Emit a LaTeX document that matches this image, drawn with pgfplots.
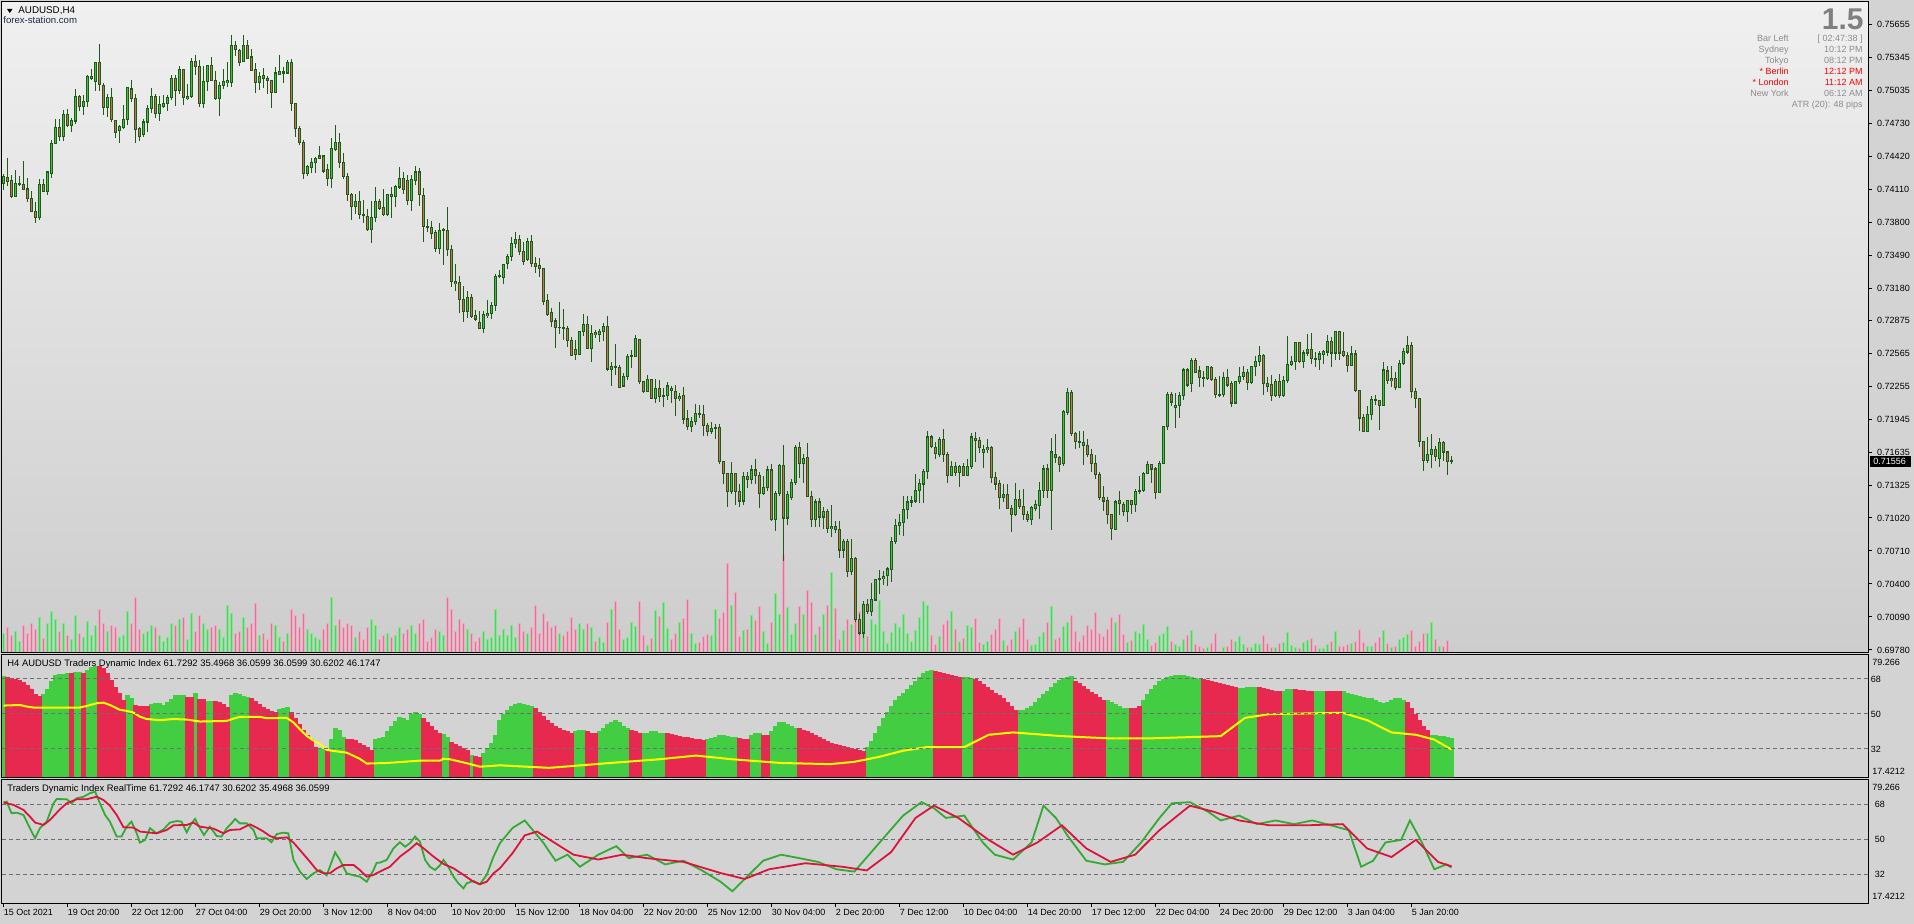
\documentclass[border=0pt]{standalone}
\usepackage{pgfplots}
\pgfplotsset{compat=1.18}
\usepackage{pgfplotstable}
\usepackage{fontspec}
\setmainfont{Liberation Sans}
\definecolor{pagebg}{HTML}{D3D3D3}
\definecolor{gradtop}{HTML}{F0F0F0}
\definecolor{gradbot}{HTML}{CDCDCD}
\definecolor{wick}{HTML}{1F5A1A}
\definecolor{bull}{HTML}{3EC43E}
\definecolor{bear}{HTML}{C8744C}
\definecolor{volup}{HTML}{8EE28E}
\definecolor{volupc}{HTML}{3FD86A}
\definecolor{voldn}{HTML}{E9AFC0}
\definecolor{voldnc}{HTML}{F06A9E}
\definecolor{tdigreen}{HTML}{42CD42}
\definecolor{tdired}{HTML}{E8294F}
\definecolor{rtgreen}{HTML}{33AA33}
\definecolor{rtred}{HTML}{DC143C}
\definecolor{infogray}{HTML}{8C8C8C}
\definecolor{gridgray}{HTML}{6E6E6E}
\newcommand\mt{\fontsize{4.5pt}{5.4pt}\selectfont}
\newcommand\mtt{\fontsize{4.7pt}{5.6pt}\selectfont}

\pgfplotstableread{
i o h l c v
0 516 525 510 523 20
1 522 540 514 518 26
2 519 524 503 504 18
3 504 529 504 516 22
4 516 523 514 516 12
5 515 537 510 511 28
6 511 521 499 502 20
7 502 509 489 490 30
8 490 499 479 484 24
9 484 520 482 515 36
10 515 520 508 509 15
11 509 528 505 527 30
12 526 557 521 554 42
13 554 577 553 569 34
14 569 577 556 560 22
15 560 585 556 581 30
16 581 586 569 571 18
17 571 578 565 575 14
18 575 605 572 598 38
19 598 599 584 589 20
20 589 599 581 593 16
21 593 618 588 617 32
22 615 624 613 617 18
23 612 630 603 630 28
24 630 647 603 609 44
25 608 611 581 588 30
26 588 600 579 597 22
27 597 606 574 576 28
28 575 576 559 564 26
29 566 571 554 570 16
30 569 590 567 576 18
31 576 607 571 606 42
32 605 613 593 596 30
33 596 600 554 567 56
34 568 569 556 560 24
35 562 577 560 574 20
36 574 590 565 587 22
37 587 606 582 598 28
38 598 600 578 582 26
39 582 598 575 590 18
40 589 599 587 591 12
41 591 599 584 597 16
42 597 618 595 615 30
43 615 618 589 604 28
44 604 627 600 623 34
45 623 624 590 597 36
46 596 610 595 598 14
47 598 634 597 631 40
48 631 637 618 626 22
49 626 632 588 591 38
50 591 627 587 612 30
51 612 628 603 627 24
52 627 635 613 613 26
53 613 622 595 596 28
54 596 612 580 608 24
55 608 624 605 612 16
56 611 630 607 613 48
57 611 656 607 646 40
58 646 650 636 642 20
59 641 643 627 630 22
60 631 656 630 646 36
61 646 651 634 634 26
62 635 643 622 622 30
63 623 629 601 611 50
64 611 621 604 617 18
65 618 625 606 615 20
66 615 617 600 613 14
67 613 613 587 602 30
68 602 626 601 620 28
69 619 637 619 621 16
70 621 626 611 620 12
71 620 632 620 630 20
72 630 633 584 591 44
73 591 591 560 568 38
74 568 570 552 555 26
75 555 557 520 526 40
76 526 534 523 532 24
77 531 540 526 536 20
78 536 541 526 540 16
79 540 551 539 542 14
80 542 543 526 528 24
81 529 535 514 521 30
82 521 559 512 549 56
83 548 571 547 555 28
84 555 564 531 536 34
85 536 545 520 523 26
86 523 526 500 506 30
87 506 507 482 495 28
88 495 506 488 499 16
89 499 509 483 487 22
90 487 501 479 486 14
91 485 492 472 473 26
92 473 500 460 484 34
93 484 513 480 499 28
94 499 502 491 493 14
95 494 511 486 487 18
96 487 506 486 506 20
97 506 513 484 504 16
98 504 515 494 513 18
99 513 532 511 521 26
100 521 527 506 511 20
101 519 524 496 500 24
102 500 524 490 520 28
103 519 533 515 527 20
104 527 531 495 506 30
105 505 512 461 476 34
106 476 483 471 475 12
107 475 481 464 469 16
108 470 473 452 455 24
109 455 479 450 472 22
110 472 474 440 473 18
111 472 494 448 454 56
112 454 458 419 424 44
113 424 441 415 422 22
114 423 429 395 407 34
115 407 420 386 396 30
116 396 415 390 409 24
117 409 412 390 391 20
118 392 397 387 389 12
119 386 396 380 380 16
120 380 396 376 393 22
121 392 407 390 394 14
122 394 405 389 402 16
123 402 431 396 429 44
124 429 435 427 430 18
125 428 441 422 440 24
126 441 450 436 448 18
127 448 466 443 460 28
128 460 471 456 464 16
129 464 468 449 452 30
130 452 461 440 443 22
131 445 465 443 462 20
132 462 468 438 441 26
133 441 447 432 438 48
134 439 446 428 436 20
135 436 437 402 405 40
136 406 412 392 393 32
137 395 399 381 387 26
138 387 390 362 381 28
139 381 405 375 381 20
140 381 398 369 380 18
141 380 382 363 369 22
142 369 372 355 355 36
143 360 369 350 356 24
144 356 378 356 377 30
145 377 394 373 384 24
146 384 392 361 361 30
147 361 383 349 375 26
148 376 379 371 374 12
149 374 380 367 377 16
150 377 385 368 382 11
151 382 392 340 342 31
152 342 349 326 344 44
153 344 365 336 343 52
154 343 346 325 325 24
155 326 338 326 335 14
156 335 356 332 354 16
157 354 360 343 355 31
158 354 374 353 371 27
159 370 370 328 330 52
160 330 331 319 321 18
161 321 336 320 332 8
162 332 333 314 314 15
163 314 333 310 324 43
164 324 332 311 316 37
165 316 324 306 317 51
166 317 330 313 326 25
167 324 326 310 322 14
168 321 327 298 314 20
169 314 319 312 316 31
170 317 325 290 295 35
171 295 303 285 288 54
172 288 297 283 293 20
173 293 309 289 300 10
174 300 308 296 299 11
175 299 308 279 289 17
176 289 291 279 283 19
177 283 292 281 286 18
178 286 290 276 287 44
179 287 290 253 255 35
180 255 256 234 244 41
181 244 244 212 227 90
182 227 255 225 244 48
183 244 244 214 227 61
184 227 234 212 218 17
185 218 245 214 241 23
186 241 245 230 238 24
187 238 252 234 247 38
188 247 257 234 242 33
189 242 245 211 225 47
190 225 241 224 231 22
191 231 251 227 247 10
192 247 253 199 201 31
193 201 227 190 225 60
194 225 253 223 251 39
195 251 271 162 202 98
196 202 227 195 224 46
197 221 239 219 235 19
198 235 271 233 268 30
199 268 273 240 253 47
200 253 262 235 258 39
201 259 272 222 222 63
202 222 227 194 201 51
203 201 220 194 217 19
204 217 221 194 203 27
205 203 212 192 208 39
206 208 210 188 192 48
207 192 214 184 194 81
208 194 199 188 191 45
209 191 199 164 172 14
210 172 182 164 180 23
211 180 182 147 152 34
212 152 182 148 164 29
213 164 165 104 107 39
214 107 112 92 94 42
215 94 124 89 121 19
216 121 126 112 114 17
217 114 141 110 125 34
218 125 145 124 144 29
219 144 153 131 145 53
220 145 152 139 147 22
221 148 156 138 154 10
222 154 184 142 180 21
223 180 201 178 195 30
224 195 206 186 198 26
225 198 223 185 210 39
226 210 223 201 217 20
227 217 223 212 218 12
228 218 243 216 228 23
229 228 239 216 234 36
230 234 248 216 246 52
231 246 284 239 278 48
232 278 280 268 269 18
233 268 273 257 263 9
234 262 278 259 276 17
235 276 286 255 262 29
236 262 264 235 242 33
237 242 256 241 250 42
238 250 255 241 245 24
239 245 252 231 250 12
240 250 254 241 242 15
241 242 257 241 250 28
242 250 282 248 278 26
243 277 283 255 275 35
244 275 278 263 268 11
245 264 271 249 266 9
246 266 276 263 268 12
247 268 270 235 240 19
248 240 245 228 234 24
249 234 238 210 221 35
250 221 234 217 224 13
251 224 234 210 211 8
252 211 214 189 205 14
253 205 235 204 219 22
254 219 228 210 213 26
255 213 229 200 205 35
256 205 209 198 201 14
257 201 213 195 212 8
258 211 219 209 215 9
259 214 236 201 228 17
260 228 252 221 248 21
261 248 253 221 228 31
262 228 277 191 264 47
263 262 281 254 259 14
264 259 260 245 252 16
265 253 303 251 302 27
266 301 324 299 320 31
267 320 322 279 281 38
268 281 283 267 274 22
269 274 284 268 273 12
270 273 284 252 270 18
271 270 276 259 262 28
272 262 267 245 253 24
273 253 261 239 243 41
274 243 245 219 221 20
275 221 232 209 218 17
276 218 222 196 205 24
277 205 206 181 192 36
278 191 219 191 217 31
279 218 227 205 216 39
280 215 217 204 208 19
281 208 219 198 218 11
282 218 219 206 215 13
283 215 229 208 227 22
284 227 241 225 228 20
285 228 245 226 244 29
286 244 256 244 252 14
287 252 252 235 248 8
288 248 250 220 226 11
289 226 256 226 253 18
290 253 288 253 288 20
291 288 320 285 318 27
292 318 320 307 311 12
293 306 319 287 308 9
294 308 320 296 317 7
295 317 343 313 341 14
296 341 343 325 327 18
297 328 352 320 350 23
298 350 352 338 339 9
299 340 345 325 334 7
300 334 340 325 333 5
301 333 344 332 344 6
302 343 345 331 332 10
303 332 334 315 318 20
304 318 335 316 317 2
305 318 339 316 334 6
306 334 342 325 327 7
307 328 331 306 310 14
308 310 331 309 330 12
309 330 344 328 335 17
310 335 345 332 339 9
311 339 342 322 329 6
312 329 345 328 344 6
313 344 354 335 349 10
314 349 364 345 355 9
315 355 356 318 328 18
316 328 334 320 326 10
317 327 336 312 317 6
318 317 333 316 330 6
319 330 337 315 317 10
320 317 335 316 331 11
321 331 373 329 346 21
322 346 354 345 349 8
323 349 367 341 367 6
324 367 367 348 349 5
325 349 360 343 357 11
326 357 375 354 360 13
327 360 376 347 352 15
328 352 358 344 351 8
329 351 359 341 356 5
330 356 360 347 358 5
331 358 374 354 368 9
332 368 372 344 357 12
333 357 377 350 377 22
334 377 377 350 357 7
335 358 377 353 355 7
336 355 358 339 345 9
337 345 364 345 356 10
338 356 360 320 322 12
339 322 322 284 296 24
340 296 300 283 283 11
341 283 307 283 299 7
342 299 317 294 313 7
343 313 318 308 312 11
344 312 313 285 308 16
345 308 349 307 341 23
346 340 345 328 331 10
347 331 345 325 333 6
348 333 339 322 325 7
349 325 350 324 347 14
350 347 362 346 358 16
351 358 373 356 364 19
352 364 367 315 321 23
353 321 324 305 314 7
354 314 315 269 274 12
355 274 274 246 256 20
356 256 278 254 262 20
357 262 281 249 266 31
358 266 270 256 260 14
359 258 277 250 273 7
360 273 274 256 264 7
361 264 264 242 255 13
362 255 260 253 256 2
}\candles

\pgfplotstableread{
i t
0 69.5
1 -69
2 -68.5
3 -68
4 -67.5
5 -66.5
6 -65
7 -63
8 -60.5
9 -59
10 60
11 63
12 67
13 70
14 70.5
15 70.7
16 70.9
17 -70.9
18 71.4
19 71.4
20 -71
21 72.5
22 74.3
23 74.7
24 -74.5
25 -73.5
26 -71
27 -67.5
28 -64
29 -61
30 -57
31 59.5
32 58.2
33 -54.5
34 -54
35 -54
36 -54
37 55.3
38 55.8
39 55.5
40 54.6
41 56
42 57.8
43 59.5
44 59.8
45 59.8
46 -58.9
47 -58.9
48 61
49 -57.6
50 -57.6
51 56.7
52 56.7
53 -56.7
54 -56
55 -55
56 -53.8
57 59.5
58 61
59 60
60 59
61 58.5
62 -58
63 -56.5
64 -55
65 -53.8
66 -52.5
67 -51.5
68 -50.8
69 52.5
70 53
71 53.8
72 -51
73 -48
74 -45
75 -41.8
76 -39
77 -37
78 -33
79 32.3
80 32
81 -31.5
82 37
83 43
84 41.5
85 38
86 -37.2
87 -37
88 -36.5
89 -35
90 -34
91 -33
92 -31.5
93 37
94 37.5
95 38
96 41
97 44
98 46.5
99 48.6
100 48
101 47
102 50
103 51.2
104 50
105 -48
106 -46
107 -44
108 -42
109 -40
110 39.6
111 38
112 -35.8
113 -34.5
114 -33.5
115 -32.5
116 -31.5
117 29
118 -28.3
119 -28.1
120 29.8
121 32
122 35
123 39
124 46.9
125 50
126 52
127 54
128 55
129 55.5
130 55
131 54.5
132 54
133 -53
134 -51
135 -49
136 -47
137 -45.5
138 -44
139 -43
140 -42
141 -41
142 -40
143 41
144 42
145 42
146 -41
147 -40
148 -40
149 41
150 43
151 45
152 46
153 47
154 46
155 44
156 43
157 -42
158 -41
159 -40
160 40
161 40
162 41
163 41
164 40
165 40
166 -40
167 -39.5
168 -39
169 -38.5
170 -38
171 -38
172 -37.5
173 -37
174 -37
175 -36.5
176 37
177 37.5
178 38
179 39
180 39
181 38.5
182 38
183 38
184 -37.5
185 -37
186 -37
187 39
188 40
189 40
190 -39
191 -39
192 41
193 44
194 46
195 46
196 45
197 44
198 43
199 -43
200 -42
201 -41
202 -40
203 -39
204 -38
205 -37
206 -36
207 -35
208 -34.5
209 -34
210 -33.5
211 -33
212 -32.5
213 -32
214 -31.5
215 -31
216 33
217 36
218 40
219 44
220 48
221 51
222 54
223 57
224 59
225 61
226 63
227 65
228 67
229 69
230 71
231 72
232 72.5
233 -72
234 -71.5
235 -71
236 -70.5
237 -70
238 -69.5
239 -69
240 69
241 69
242 68.5
243 -68
244 -67
245 -65.5
246 -64
247 -62.5
248 -61
249 -59.5
250 -58
251 -56
252 -54
253 -52
254 52
255 52
256 53
257 54
258 56
259 58
260 60
261 62
262 64
263 66
264 67.5
265 68.5
266 69
267 69.5
268 -67
269 -66
270 -64.5
271 -63
272 -61.5
273 -60
274 -58.5
275 -57
276 57
277 56
278 55
279 54
280 53
281 53
282 -53
283 -53
284 -54
285 57
286 60
287 63
288 65
289 67
290 68
291 69
292 69.5
293 70
294 70
295 70
296 69.5
297 69
298 68.5
299 68
300 -68
301 -67.5
302 -67
303 -66.5
304 -66
305 -65.5
306 -65
307 -64.5
308 -64
309 63.5
310 63.5
311 64
312 64
313 64
314 -64
315 -63.5
316 -63
317 -62.5
318 -62
319 -62
320 62
321 63
322 63
323 -63
324 -62.5
325 -62.5
326 -62
327 -62
328 62
329 62
330 62
331 -62
332 -62
333 -62
334 -62
335 62
336 61
337 60
338 59.5
339 59
340 58.5
341 58
342 58
343 57
344 56
345 55.5
346 56
347 57
348 58
349 58
350 57
351 -56
352 -53
353 -50
354 -47
355 -44
356 -42
357 39
358 39
359 38.5
360 38.5
361 38
362 37.5
}\tdihist

\pgfplotstableread{
i y
0 54.3
4.1 54.6
5.8 53.8
7.5 53.3
19.1 53.3
20.8 54.1
23.3 55.5
25 55.8
26.6 54.6
29.1 52.1
30.8 51.6
32.5 50.7
34.1 48.6
35.8 47.4
39.1 46.8
42.5 47.4
45.8 47.1
49.1 46.1
55.8 46.4
57.5 47.6
59.1 48.5
64.1 48.5
65.8 47.8
70.8 48.0
72.5 45.6
74.1 42.1
75.8 38.7
77.5 36.3
79.1 34.6
80.8 31.5
82.5 31.0
85.8 30.1
89.1 26.9
90.8 24.5
95.8 24.8
104.1 26.0
109.1 26.0
110 27.0
111.6 26.7
115.8 24.7
119.1 22.9
124.1 23.6
136.4 22.3
151.7 24.8
163.9 26.7
173.1 28.6
182.2 26.7
194.4 24.8
206.6 24.2
212.7 25.4
218.8 27.9
224.9 31.1
231 33.0
240.2 33.0
246.3 39.3
252.4 40.5
264.6 38.6
276.8 37.4
286 37.4
295.1 38.0
304.3 38.6
310.4 48.0
316.5 49.9
334.8 50.6
340.9 46.8
347 40.5
353.1 39.3
357.7 36.8
362 31.7
}\tdiyellow

\pgfplotstableread{
i y
0 68.9
0.8 69.4
2.0 63.4
3.3 63.7
5.0 62.5
6.6 55.7
7.9 50.5
9.1 55.7
10.8 59.1
12.5 68.5
13.3 70.7
15.8 70.6
17.0 68.5
18.3 71.1
20.0 71.9
21.6 73.7
22.9 74.5
24.1 68.5
25.4 62.5
26.6 59.1
28.3 51.4
29.5 51.4
30.8 56.5
32.0 59.1
33.3 53.1
34.1 48.3
35.4 49.7
36.6 55.7
38.3 53.1
40.0 55.1
41.6 58.6
43.3 59.4
44.5 59.1
45.8 53.6
47.0 58.2
47.9 60.5
49.1 55.7
50.1 52.2
51.6 56.5
53.3 51.7
54.5 51.4
55.8 55.7
57.0 58.2
57.9 60.5
59.1 58.2
60.8 58.2
62.5 54.8
63.3 50.5
65.8 50.5
67.0 48.5
68.3 52.7
69.9 53.4
71.2 53.1
72.5 39.4
74.1 33.4
75.8 29.6
77.5 32.5
79.1 34.2
80.8 31.5
82.9 43.3
84.1 39.4
85.8 32.5
87.5 31.5
89.1 30.8
90.8 28.2
92.5 34.2
93.3 38.0
94.1 38.0
95.8 39.4
97.5 45.4
99.1 48.5
100.4 46.2
101.6 48.0
102.9 51.4
104.1 48.8
105.4 39.4
106.6 35.9
107.9 34.2
109.1 36.6
110.0 39.4
111.2 35.9
112.5 30.8
113.7 27.4
115.0 24.8
115.8 27.4
117.5 28.6
119.1 26.9
120.8 31.7
122.5 41.1
124.1 48.0
127.3 55.9
130.3 59.7
134.9 48.4
138.0 39.0
141.0 42.1
144.1 35.9
148.7 42.1
153.2 46.5
156.3 40.3
160.9 42.1
165.4 37.1
170.0 39.0
174.6 34.0
179.2 28.3
182.2 23.3
185.3 29.6
189.9 39.0
194.4 42.1
199.0 40.3
203.6 38.4
208.2 34.6
212.7 33.4
216.4 42.1
220.4 51.6
224.9 62.2
229.5 69.1
232.6 66.0
235.6 61.0
240.2 62.2
244.8 48.4
247.8 42.1
252.4 39.6
257.0 48.4
260.0 67.3
263.1 61.0
266.1 51.6
270.7 39.0
275.3 37.1
279.9 38.4
284.4 48.4
289.0 61.0
292.1 68.5
296.6 69.1
301.2 64.1
304.3 59.7
308.9 62.2
313.4 57.8
318.0 59.7
322.6 57.8
327.2 59.7
331.8 57.2
336.3 54.7
339.4 35.9
342.4 39.0
345.5 48.4
349.4 49.7
351.6 59.7
354.6 48.4
357.7 34.6
360.7 37.1
362 35.5
}\rtgreenline

\pgfplotstableread{
i y
0 68.9
2.5 67.7
5.0 65.1
6.6 61.7
7.9 58.6
10.0 57.4
11.6 59.9
14.1 65.4
15.8 68.5
18.3 70.6
20.8 70.6
23.3 71.9
25.0 70.2
26.6 67.3
28.3 62.5
30.0 56.2
32.5 56.0
34.1 54.0
35.8 53.6
38.3 53.1
40.8 54.8
42.5 57.2
45.8 57.4
47.5 58.6
49.1 56.5
50.8 56.0
52.5 55.5
55.0 53.1
56.6 54.8
59.1 55.1
61.6 57.7
63.3 56.0
65.0 54.0
66.6 51.7
68.3 50.5
70.8 51.0
72.5 48.3
74.1 44.5
76.6 38.5
78.3 34.2
80.0 32.5
81.6 32.5
83.3 35.1
85.0 36.8
87.5 36.8
89.1 34.2
90.8 30.8
92.5 31.7
94.1 33.4
96.6 35.9
99.1 41.1
101.6 44.9
103.3 48.0
105.0 45.4
107.5 41.1
110.0 37.3
112.5 35.1
115.0 31.7
117.5 28.2
119.1 26.9
120.8 28.2
122.5 32.5
124.1 35.1
127.3 43
130.3 52
133.4 54
136.4 50
142.5 42.1
148.7 39.6
154.7 42.1
160.9 40.3
170.0 38.4
179.2 32.7
185.3 29.6
191.4 34.6
200.5 37.7
209.7 35.9
215.8 34.0
221.9 43.4
228.0 61.0
232.6 67.3
238.7 61.0
246.3 49.7
252.4 42.1
258.5 48.4
264.6 57.2
270.7 45.3
276.8 38.4
282.9 42.1
289.0 54.7
296.6 67.3
302.7 64.1
308.9 59.7
316.5 57.2
325.7 57.2
334.8 57.8
340.9 45.3
347.0 40.9
353.1 49.7
358.6 38.4
362 36.1
}\rtredline

\begin{document}
\begin{tikzpicture}
\path[use as bounding box, fill=pagebg] (0,0) rectangle (957pt,462pt);
\shade[top color=gradtop, bottom color=gradbot] (1pt,135.5pt) rectangle (934pt,461pt);

% ---------- volumes ----------
\begin{axis}[at={(1pt,461pt)}, anchor=north west, scale only axis,
  width=933pt, height=325.5pt, xmin=-0.375, xmax=466.125, ymin=0, ymax=651,
  axis lines=none, clip=true]
\addplot[ycomb, draw=volup, line width=1.5pt, mark=none]
  table[x=i, y expr={(\thisrow{c}>=\thisrow{o}) ? \thisrow{v} : 0}] {\candles};
\addplot[ycomb, draw=voldn, line width=1.5pt, mark=none]
  table[x=i, y expr={(\thisrow{c}<\thisrow{o}) ? \thisrow{v} : 0}] {\candles};
\addplot[ycomb, draw=volupc, line width=0.5pt, mark=none]
  table[x=i, y expr={(\thisrow{c}>=\thisrow{o}) ? \thisrow{v}-1 : 0}] {\candles};
\addplot[ycomb, draw=voldnc, line width=0.5pt, mark=none]
  table[x=i, y expr={(\thisrow{c}<\thisrow{o}) ? \thisrow{v}-1 : 0}] {\candles};
\end{axis}

% ---------- candles ----------
\begin{axis}[name=main, at={(1pt,461pt)}, anchor=north west, scale only axis,
  width=933pt, height=325.5pt, xmin=-0.375, xmax=466.125, ymin=75.18, ymax=686.74,
  axis line style={line width=0.5pt, black}, xtick=\empty,
  ytick={78,109,140,171,202,232.5,263.5,294.5,325.5,356.5,387.5,418,449,480,511,542,573,603.5,634.5,665.5},
  yticklabels={0.69780,0.70090,0.70400,0.70710,0.71020,0.71325,0.71635,0.71945,0.72255,0.72565,0.72875,0.73180,0.73490,0.73800,0.74110,0.74420,0.74730,0.75035,0.75345,0.75655},
  ytick pos=right, yticklabel pos=right, tick align=outside, major tick length=1.8pt,
  ytick style={line width=0.5pt, black},
  yticklabel style={font=\mt, anchor=west, inner sep=0pt, xshift=2.6pt},
  clip=true]
\addplot[draw=none, mark=none, error bars/.cd, y dir=both, y explicit, error mark=none,
  error bar style={line width=0.5pt, draw=wick}]
  table[x=i, y expr={(\thisrow{h}+\thisrow{l})/2}, y error expr={(\thisrow{h}-\thisrow{l})/2}] {\candles};
\addplot[draw=none, mark=none, error bars/.cd, y dir=both, y explicit, error mark=none,
  error bar style={line width=1.6pt, draw=wick}]
  table[x=i, y expr={(\thisrow{o}+\thisrow{c})/2}, y error expr={abs(\thisrow{c}-\thisrow{o})/2+0.55}] {\candles};
\addplot[draw=none, mark=none, error bars/.cd, y dir=both, y explicit, error mark=none,
  error bar style={line width=0.6pt, draw=bear}]
  table[x=i, y expr={(\thisrow{o}+\thisrow{c})/2}, y error expr={max(abs(\thisrow{c}-\thisrow{o})/2-0.5,0)}] {\candles};
\addplot[draw=none, mark=none, error bars/.cd, y dir=both, y explicit, error mark=none,
  error bar style={line width=0.6pt, draw=bull}]
  table[x=i, y expr={(\thisrow{o}+\thisrow{c})/2}, y error expr={(\thisrow{c}>\thisrow{o}) ? max((\thisrow{c}-\thisrow{o})/2-0.5,0) : 0}] {\candles};
\end{axis}

% ---------- TDI panel ----------
\begin{axis}[name=tdi, at={(1pt,134.5pt)}, anchor=north west, scale only axis,
  width=933pt, height=61.5pt, xmin=-0.375, xmax=466.125, ymin=17.09, ymax=80.29,
  xtick=\empty, ytick={32,50,68}, yticklabels={32,50,68},
  ytick pos=right, yticklabel pos=right, ytick style={draw=none},
  yticklabel style={font=\mt, anchor=west, inner sep=0pt, xshift=1.2pt},
  ymajorgrids, grid style={dash pattern=on 2pt off 1.5pt, line width=0.5pt, gridgray},
  axis on top, axis line style={line width=0.5pt, black}, clip=true]
\addplot[ycomb, draw=tdigreen, line width=2.05pt, mark=none]
  table[x=i, y expr={max(\thisrow{t},0)}] {\tdihist};
\addplot[ycomb, draw=tdired, line width=2.05pt, mark=none]
  table[x=i, y expr={max(-\thisrow{t},0)}] {\tdihist};
\addplot[draw={rgb,255:red,255;green,255;blue,0}, line width=1pt, mark=none] table[x=i, y=y] {\tdiyellow};
\end{axis}

% ---------- TDI RealTime panel ----------
\begin{axis}[name=rt, at={(1pt,72pt)}, anchor=north west, scale only axis,
  width=933pt, height=61.65pt, xmin=-0.375, xmax=466.125, ymin=17.1, ymax=80.5,
  xtick={0,16,...,352},
  xticklabels={15 Oct 2021,19 Oct 20:00,22 Oct 12:00,27 Oct 04:00,29 Oct 20:00,3 Nov 12:00,8 Nov 04:00,10 Nov 20:00,15 Nov 12:00,18 Nov 04:00,22 Nov 20:00,25 Nov 12:00,30 Nov 04:00,2 Dec 20:00,7 Dec 12:00,10 Dec 04:00,14 Dec 20:00,17 Dec 12:00,22 Dec 04:00,24 Dec 20:00,29 Dec 12:00,3 Jan 04:00,5 Jan 20:00},
  xtick pos=bottom, tick align=outside, major tick length=2pt,
  xtick style={line width=0.5pt, black},
  xticklabel style={font=\mt, anchor=north west, inner sep=0pt, yshift=-0.6pt},
  ytick={32,50,68}, yticklabels={32,50,68},
  ytick pos=right, yticklabel pos=right, ytick style={draw=none},
  yticklabel style={font=\mt, anchor=west, inner sep=0pt, xshift=1.2pt},
  ymajorgrids, grid style={dash pattern=on 2pt off 1.5pt, line width=0.5pt, gridgray},
  axis line style={line width=0.5pt, black}, clip=true]
\addplot[draw=rtgreen, line width=0.9pt, mark=none] table[x=i, y=y] {\rtgreenline};
\addplot[draw=rtred, line width=0.9pt, mark=none] table[x=i, y=y] {\rtredline};
\end{axis}

% ---------- texts (pixel coordinates) ----------
\begin{scope}[x=0.5pt, y=-0.5pt, shift={(0pt,462pt)}]
\fill[black] (7,9) -- (12.5,9) -- (9.75,13) -- cycle;
\node[anchor=west, inner sep=0pt, font=\fontsize{4.9pt}{5.5pt}\selectfont] at (18,10.8) {AUDUSD,H4};
\node[anchor=west, inner sep=0pt, font=\fontsize{4.8pt}{5.5pt}\selectfont, text={rgb,255:red,28;green,40;blue,70}] at (3,19.6) {forex-station.com};
\node[anchor=east, inner sep=0pt, font=\bfseries\fontsize{15pt}{15pt}\selectfont, text={rgb,255:red,128;green,128;blue,128}] at (1864,19.6) {1.5};
\begin{scope}[every node/.style={inner sep=0pt, font=\mt}]
\node[anchor=east, text=infogray] at (1789,38.7) {Bar Left};
\node[anchor=east, text=infogray] at (1789,49.7) {Sydney};
\node[anchor=east, text=infogray] at (1789,60.7) {Tokyo};
\node[anchor=east, text=red] at (1789,71.7) {* Berlin};
\node[anchor=east, text=red] at (1789,82.7) {* London};
\node[anchor=east, text=infogray] at (1789,93.7) {New York};
\node[anchor=east, text=infogray] at (1863,38.7) {[ 02:47:38 ]};
\node[anchor=east, text=infogray] at (1863,49.7) {10:12 PM};
\node[anchor=east, text=infogray] at (1863,60.7) {08:12 PM};
\node[anchor=east, text=red] at (1863,71.7) {12:12 PM};
\node[anchor=east, text=red] at (1863,82.7) {11:12 AM};
\node[anchor=east, text=infogray] at (1863,93.7) {06:12 AM};
\node[anchor=east, text=infogray] at (1863,104.7) {ATR (20): 48 pips};
\node[anchor=west, font=\mtt] at (7,664) {H4 AUDUSD Traders Dynamic Index 61.7292 35.4968 36.0599 36.0599 30.6202 46.1747};
\node[anchor=west, font=\mtt] at (7,789) {Traders Dynamic Index RealTime 61.7292 46.1747 30.6202 35.4968 36.0599};
\node[anchor=west] at (1872,662.7) {79.266};
\node[anchor=west] at (1872,771.7) {17.4212};
\node[anchor=west] at (1872,787.2) {79.266};
\node[anchor=west] at (1872,896.7) {17.4212};
\end{scope}
\fill[black] (1870,456.5) rectangle (1911,467);
\node[anchor=west, inner sep=0pt, font=\mt, text=white] at (1873,461.8) {0.71556};
\end{scope}
\end{tikzpicture}
\end{document}
